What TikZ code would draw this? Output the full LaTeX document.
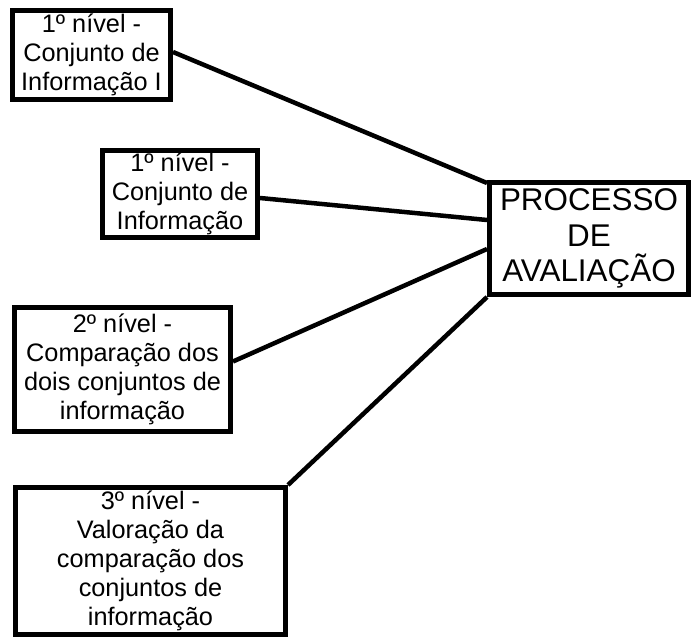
\documentclass[tikz,border=0pt]{standalone}
\usepackage{fontspec}
\setmainfont{Liberation Sans}

\tikzset{
  nivel/.style={draw, line width=5pt, align=center, inner sep=0pt,
    font=\fontsize{25.3}{29}\selectfont},
  processo/.style={nivel, font=\fontsize{31.4}{35.5}\selectfont},
  ligacao/.style={line width=4.5pt}
}

\begin{document}
\begin{tikzpicture}[x=1pt, y=-1pt]
    \useasboundingbox (0,0) rectangle (691,639);

    % Caixas
    \node[nivel, minimum width=158pt, minimum height=89pt] (n1a) at (91.5,55)
        {1º nível -\\Conjunto de\\Informação I};
    \node[nivel, minimum width=155pt, minimum height=87pt] (n1b) at (180,194)
        {1º nível -\\Conjunto de\\Informação};
    \node[nivel, minimum width=216pt, minimum height=124pt] (n2) at (122.5,369.5)
        {2º nível -\\Comparação dos\\dois conjuntos de\\informação};
    \node[nivel, minimum width=270pt, minimum height=147pt] (n3) at (150.5,561)
        {3º nível -\\Valoração da\\comparação dos\\conjuntos de\\informação};
    \node[processo, minimum width=199pt, minimum height=112pt] (proc) at (589,238.5)
        {PROCESSO\\DE\\AVALIAÇÃO};

    % Ligações
    \draw[ligacao] ([yshift=3pt]n1a.east) -- ([yshift=-3pt]proc.north west);
    \draw[ligacao] ([yshift=-4pt]n1b.east) -- ([yshift=-40pt]proc.north west);
    \draw[ligacao] ([yshift=8pt]n2.east) -- ([yshift=-69pt]proc.north west);
    \draw[ligacao] (n3.north east) -- (proc.south west);
\end{tikzpicture}
\end{document}
